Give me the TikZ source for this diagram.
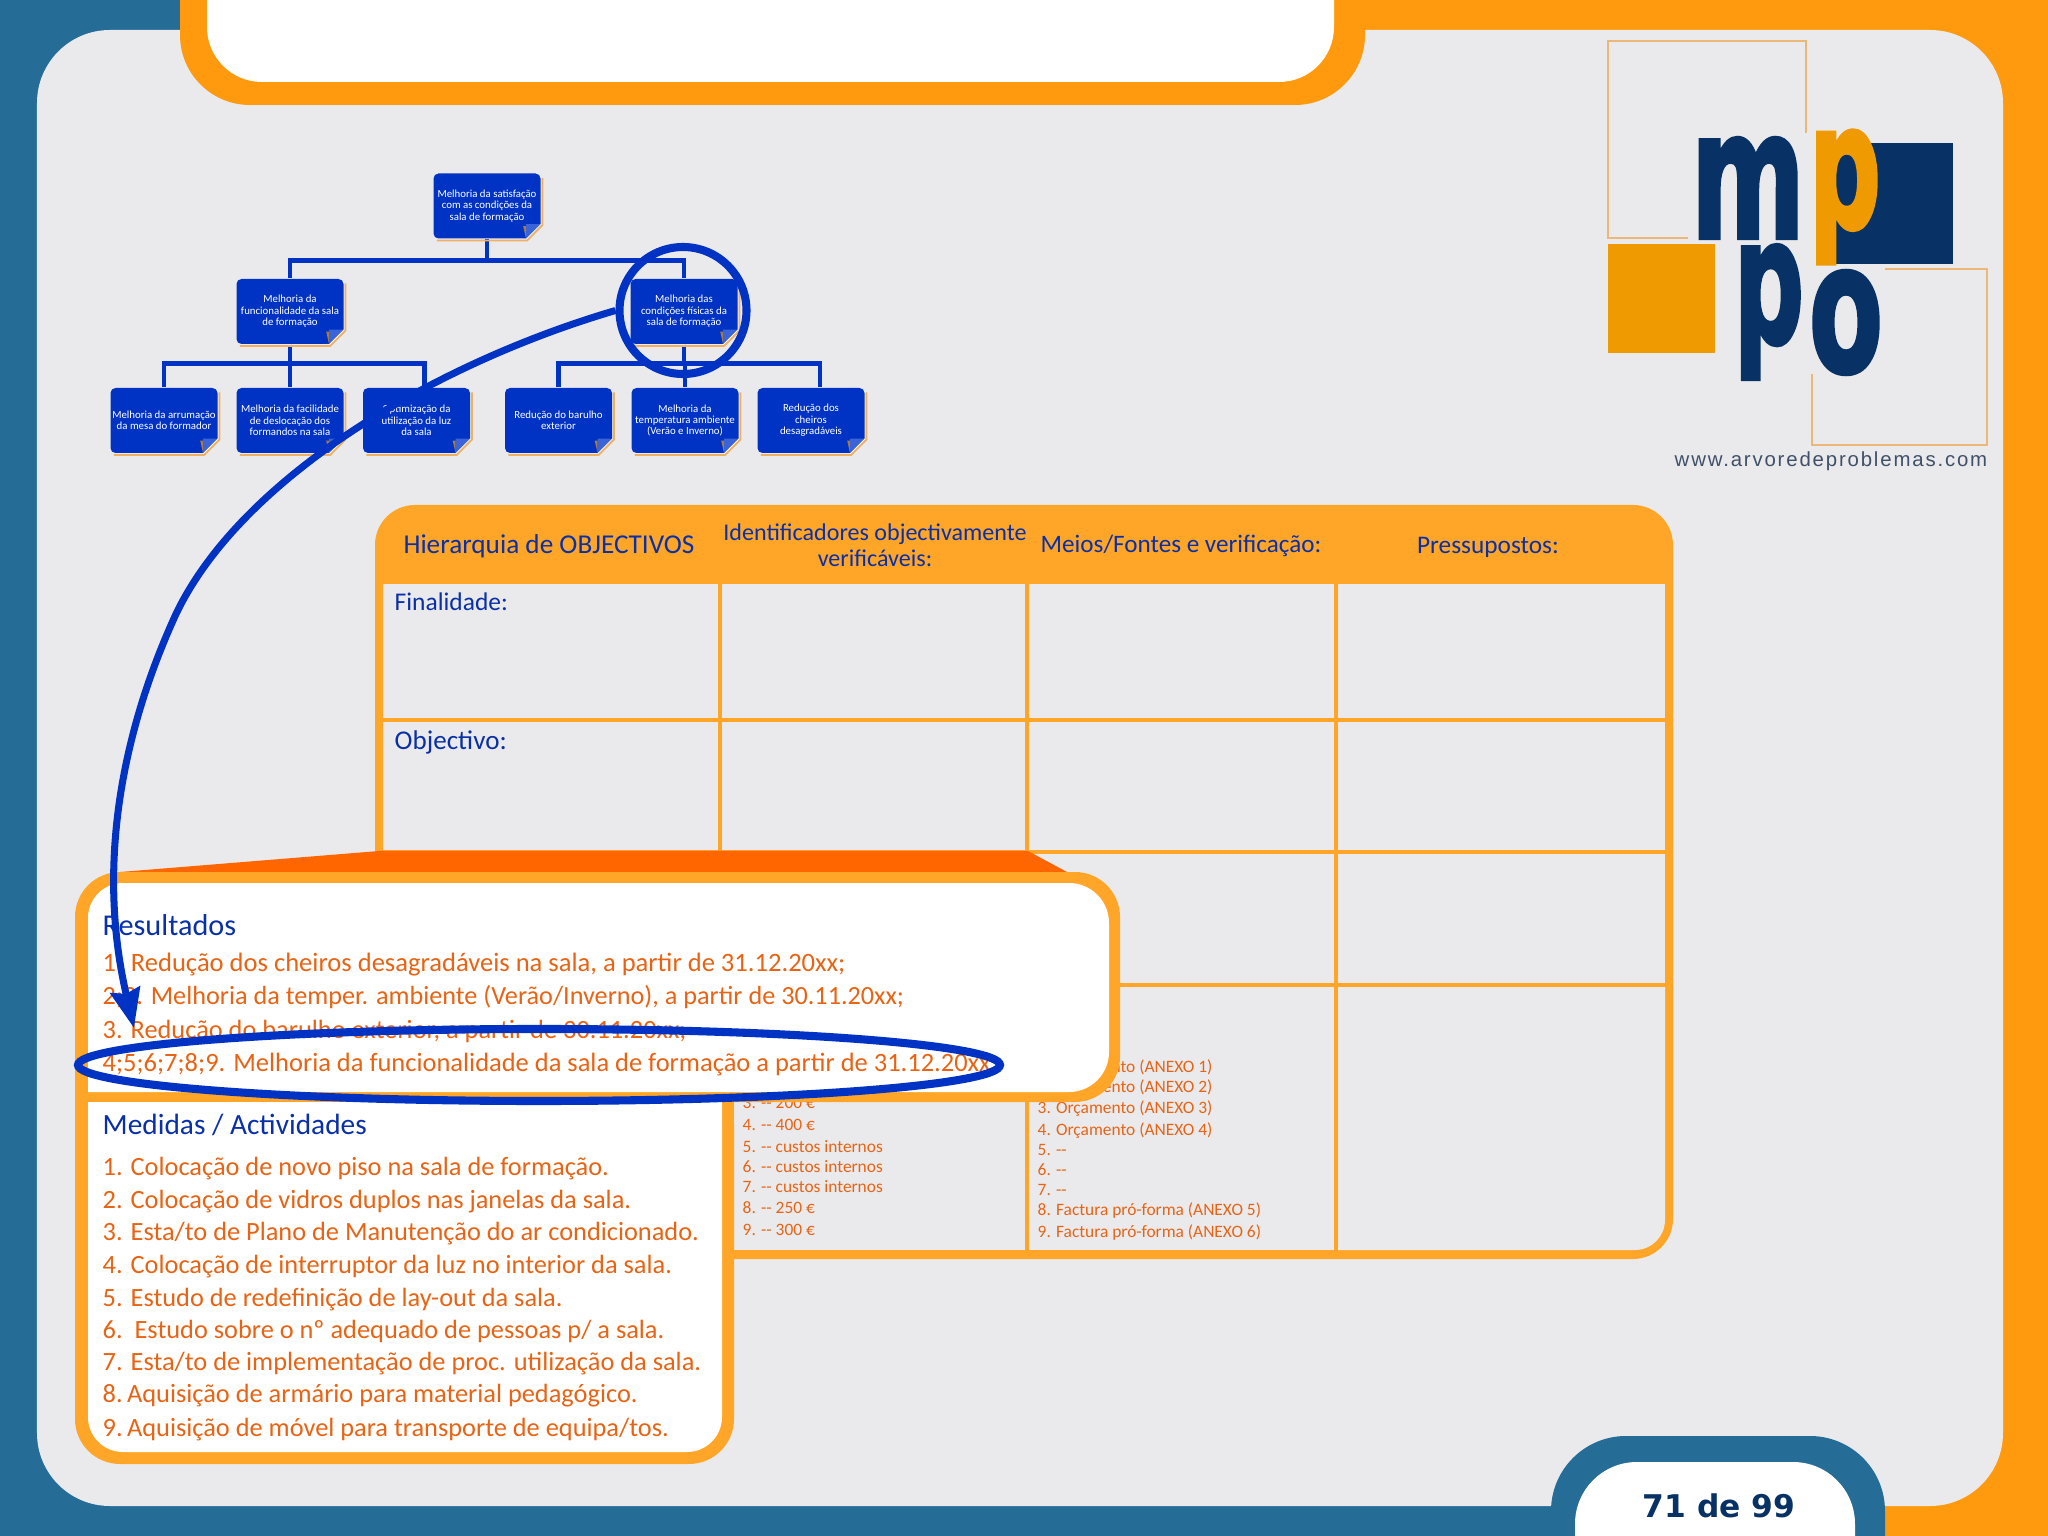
\documentclass[tikz,border=0pt]{standalone}
\usepackage{fontspec}
\setmainfont{Carlito}
\newfontfamily\pagefont{DejaVu Sans}
\newfontfamily\logofont[BoldFeatures={FakeBold=2.5}]{DejaVu Sans}
\newfontfamily\urlfont[LetterSpace=9]{Liberation Sans}
\usetikzlibrary{arrows.meta,shapes.geometric}
\definecolor{slideblue}{RGB}{37,109,151}
\definecolor{slideorange}{RGB}{255,154,14}
\definecolor{panelgray}{RGB}{234,234,236}
\definecolor{tableorange}{RGB}{255,166,40}
\definecolor{deeporange}{RGB}{255,102,0}
\definecolor{textorange}{RGB}{232,100,20}
\definecolor{textblue}{RGB}{10,48,168}
\definecolor{objblue}{RGB}{0,51,196}
\definecolor{foldblue}{RGB}{58,100,216}
\definecolor{foldedge}{RGB}{240,176,96}
\definecolor{logonavy}{RGB}{8,50,102}
\definecolor{logoorange}{RGB}{238,154,0}
\definecolor{logoline}{RGB}{236,184,120}
\definecolor{urlgray}{RGB}{64,80,104}

\begin{document}
\begin{tikzpicture}[
    x=1cm, y=-1cm,
    objbox/.style={
        rectangle, rounded corners=0.05cm, fill=objblue, text=white,
        minimum width=1.07cm, minimum height=0.65cm, inner sep=0pt,
        align=center, font=\fontsize{3.08}{3.25}\selectfont
    },
    link/.style={draw=objblue, line width=1.4pt},
    ringmark/.style={ellipse, draw=objblue, line width=2.3pt, inner sep=0pt},
    sweep/.style={
        -{Stealth[length=3.9mm, width=3mm, inset=0.4mm]},
        line width=2pt,
        draw=objblue
    },
    headtext/.style={text=textblue, align=center},
    titletext/.style={anchor=base west, inner sep=0pt, text=textblue},
    mainline/.style={anchor=base west, inner sep=0pt, text=textorange, font=\fontsize{7.5}{9}\selectfont},
    smallline/.style={anchor=base west, inner sep=0pt, text=textorange, font=\fontsize{4.95}{6}\selectfont},
    logoframe/.style={draw=logoline, line width=0.7pt}
]
\useasboundingbox (0,0) rectangle (20.48,15.36);

% =================== Slide background ===================
\fill[slideblue] (0,0) rectangle (20.48,15.36);
\fill[slideorange] (1.80,0) rectangle (20.48,0.60);
\fill[slideorange] (19.00,0) rectangle (20.48,15.36);
\fill[slideorange] (18.00,14.50) rectangle (20.48,15.36);
\fill[panelgray, rounded corners=0.73cm] (0.37,0.30) rectangle (20.03,15.06);
\fill[slideorange, rounded corners=0.70cm] (1.80,-1.00) rectangle (13.65,1.05);
\fill[white, rounded corners=0.55cm] (2.07,-1.00) rectangle (13.34,0.82);
\fill[slideblue, rounded corners=0.75cm] (15.51,14.36) rectangle (18.85,16.50);
\fill[white, rounded corners=0.62cm] (15.75,14.62) rectangle (18.55,16.50);
\node[text=logonavy, inner sep=0pt, font=\pagefont\bfseries\fontsize{8.9}{12}\selectfont]
    (pageno) at (17.19,15.06) {71 de 99};

% =================== Logo ===================
\draw[logoframe] (16.88,2.38) -- (16.08,2.38) -- (16.08,0.41) -- (18.06,0.41) -- (18.06,1.33);
\draw[logoframe] (18.85,2.69) -- (19.87,2.69) -- (19.87,4.45) -- (18.12,4.45) -- (18.12,3.74);
\fill[logoorange] (16.08,2.44) rectangle (17.15,3.53);
\fill[logonavy] (18.33,1.43) rectangle (19.53,2.64);
\node[inner sep=0pt, text=logonavy] (logom) at (17.48,1.88) {\resizebox{1.14cm}{1.00cm}{\logofont\bfseries m}};
\node[inner sep=0pt, text=logoorange] (logop) at (18.45,1.97) {\resizebox*{0.72cm}{1.33cm}{\logofont\bfseries p}};
\node[inner sep=0pt, text=logonavy] (logoq) at (17.69,3.12) {\resizebox*{0.70cm}{1.34cm}{\logofont\bfseries p}};
\node[inner sep=0pt, text=logonavy] (logoo) at (18.46,3.225) {\resizebox*{0.74cm}{1.03cm}{\logofont\bfseries o}};
\node[inner sep=0pt, text=urlgray, font=\urlfont\fontsize{5.8}{6}\selectfont]
    (logourl) at (18.31,4.61) {www.arvoredeproblemas.com};

% =================== Objectives tree ===================
\node[objbox] (objtop) at (4.87,2.06) {Melhoria da satisfação\\com as condições da\\sala de formação};
\node[objbox] (objleft) at (2.90,3.115) {Melhoria da\\funcionalidade da sala\\de formação};
\node[objbox] (objright) at (6.84,3.115) {Melhoria das\\condições físicas da\\sala de formação};
\node[objbox] (leafa) at (1.64,4.205) {Melhoria da arrumação\\da mesa do formador};
\node[objbox] (leafb) at (2.90,4.205) {Melhoria da facilidade\\de deslocação dos\\formandos na sala};
\node[objbox] (leafc) at (4.165,4.205) {Optimização da\\utilização da luz\\da sala};
\node[objbox] (leafd) at (5.585,4.205) {Redução do barulho\\exterior};
\node[objbox] (leafe) at (6.85,4.205) {Melhoria da\\temperatura ambiente\\(Verão e Inverno)};
\node[objbox] (leaff) at (8.11,4.205) {Redução dos\\cheiros\\desagradáveis};

\draw[link] (objtop.south) -- ++(0,0.21) -| (objleft.north);
\draw[link] (objtop.south) -- ++(0,0.21) -| (objright.north);
\foreach \n/\dx in {leafa/0,leafb/0,leafc/0.08} \draw[link] (objleft.south) -- ++(0,0.19) -| ([xshift=\dx cm]\n.north);
\foreach \n/\dx in {leafd/0,leafe/0,leaff/0.09} \draw[link] (objright.south) -- ++(0,0.19) -| ([xshift=\dx cm]\n.north);

% folded corners
\foreach \n in {objtop,objleft,objright,leafa,leafb,leafc,leafd,leafe,leaff} {
    \fill[panelgray] ([xshift=-0.15cm]\n.south east) -- ([xshift=0.01cm,yshift=-0.02cm]\n.south east)
        -- ([xshift=0.01cm,yshift=0.15cm]\n.south east) -- cycle;
    \fill[foldedge!70!black] ([xshift=-0.15cm]\n.south east) -- ([xshift=-0.15cm,yshift=0.13cm]\n.south east)
        -- ([xshift=-0.18cm,yshift=0.13cm]\n.south east) -- cycle;
    \fill[foldblue] ([xshift=-0.15cm]\n.south east) -- ([xshift=-0.15cm,yshift=0.15cm]\n.south east)
        -- ([yshift=0.15cm]\n.south east) -- cycle;
    \draw[white, line width=0.25pt] ([xshift=-0.15cm]\n.south east) -- ([yshift=0.15cm]\n.south east);
    \draw[foldedge, line width=0.5pt] ([xshift=0.04cm,yshift=-0.012cm]\n.south west)
        -- ([xshift=-0.14cm,yshift=-0.012cm]\n.south east)
        -- ([xshift=0.012cm,yshift=0.14cm]\n.south east)
        -- ([xshift=0.012cm,yshift=-0.05cm]\n.north east);
}

% =================== Logical framework table ===================
\fill[tableorange, rounded corners=0.40cm] (3.75,5.05) rectangle (16.73,12.59);
\foreach \xa/\xb in {3.83/7.18,7.22/10.25,10.29/13.34,13.38/16.65}
    \foreach \ya/\yb in {5.84/7.18,7.22/8.50,8.54/9.83}
        \fill[panelgray] (\xa,\ya) rectangle (\xb,\yb);
\foreach \xa/\xb in {3.83/7.18,7.22/10.25,10.29/13.34}
    \fill[panelgray] (\xa,9.87) rectangle (\xb,12.50);
\fill[panelgray] (13.38,9.87) -- (16.65,9.87) [rounded corners=0.30cm] -- (16.65,12.50) [sharp corners] -- (13.38,12.50) -- cycle;

\node[headtext, font=\fontsize{7.75}{9}\selectfont] (headobj) at (5.49,5.46) {Hierarquia de OBJECTIVOS};
\node[headtext, font=\fontsize{6.85}{7.4}\selectfont] (headind) at (8.75,5.45) {Identificadores objectivamente\\verificáveis:};
\node[headtext, font=\fontsize{7.15}{9}\selectfont] (headsrc) at (11.81,5.46) {Meios/Fontes e verificação:};
\node[headtext, font=\fontsize{7.2}{9}\selectfont] (headhyp) at (14.88,5.47) {Pressupostos:};
\node[titletext, font=\fontsize{7.25}{9}\selectfont] (rowgoal) at (3.94,6.11) {Finalidade:};
\node[titletext, font=\fontsize{7.7}{9}\selectfont] (rowaim) at (3.94,7.50) {Objectivo:};

\foreach \y/\txt [count=\i] in {11.08/3. -{}- 200 €/ano, 11.30/4. -{}- 400 €, 11.52/5. -{}- custos internos,
        11.72/6. -{}- custos internos, 11.92/7. -{}- custos internos, 12.13/8. -{}- 250 €, 12.35/9. -{}- 300 €}
    \node[smallline] (cost\i) at (7.42,\y) {\txt};
\foreach \y/\txt [count=\i] in {10.72/1. Orçamento (ANEXO 1), 10.93/2. Orçamento (ANEXO 2), 11.14/3. Orçamento (ANEXO 3),
        11.35/4. Orçamento (ANEXO 4), 11.55/5. -{}-, 11.75/6. -{}-, 11.95/7. -{}-,
        12.15/8. Factura pró-forma (ANEXO 5), 12.37/9. Factura pró-forma (ANEXO 6)}
    \node[smallline] (proof\i) at (10.37,\y) {\txt};

% =================== Zoomed panels ===================
\fill[deeporange] (3.79,8.51) -- (10.28,8.51) -- (10.67,8.72) -- (1.20,8.72) -- cycle;
\fill[tableorange, rounded corners=0.45cm] (0.75,8.72) rectangle (11.20,11.02);
\fill[tableorange] (0.75,10.60) rectangle (7.34,11.30);
\fill[tableorange, rounded corners=0.45cm] (0.75,10.80) rectangle (7.34,14.64);
\fill[white] (0.88,8.83) [rounded corners=0.40cm] -- (11.09,8.83) -- (11.09,10.92) [sharp corners] -- (0.88,10.92) [rounded corners=0.35cm] -- cycle;
\fill[white] (0.88,11.02) -- (7.22,11.02) [rounded corners=0.35cm] -- (7.22,14.52) -- (0.88,14.52) [sharp corners] -- cycle;

\node[titletext, font=\fontsize{8.6}{9}\selectfont] (restitle) at (1.02,9.35) {Resultados};
\node[mainline, font=\fontsize{7.56}{9}\selectfont] (res1) at (1.02,9.71) {1. Redução dos cheiros desagradáveis na sala, a partir de 31.12.20xx;};
\node[mainline, font=\fontsize{7.46}{9}\selectfont] (res2) at (1.02,10.04) {2;3. Melhoria da temper. ambiente (Verão/Inverno), a partir de 30.11.20xx;};
\node[mainline] (res3) at (1.02,10.38) {3. Redução do barulho exterior, a partir de 30.11.20xx;};
\node[mainline, font=\fontsize{7.53}{9}\selectfont] (res4) at (1.02,10.71) {4;5;6;7;8;9. Melhoria da funcionalidade da sala de formação a partir de 31.12.20xx;};

\node[titletext, font=\fontsize{8.35}{9}\selectfont] (acttitle) at (1.02,11.34) {Medidas / Actividades};
\node[mainline] (act1) at (1.02,11.75) {1. Colocação de novo piso na sala de formação.};
\node[mainline] (act2) at (1.02,12.08) {2. Colocação de vidros duplos nas janelas da sala.};
\node[mainline] (act3) at (1.02,12.40) {3. Esta/to de Plano de Manutenção do ar condicionado.};
\node[mainline] (act4) at (1.02,12.73) {4. Colocação de interruptor da luz no interior da sala.};
\node[mainline] (act5) at (1.02,13.06) {5. Estudo de redefinição de lay-out da sala.};
\node[mainline] (act6) at (1.02,13.38) {6.\ \ Estudo sobre o nº adequado de pessoas p/ a sala.};
\node[mainline] (act7) at (1.02,13.70) {7. Esta/to de implementação de proc. utilização da sala.};
\node[mainline] (act8) at (1.02,14.02) {8.\,Aquisição de armário para material pedagógico.};
\node[mainline] (act9) at (1.02,14.36) {9.\,Aquisição de móvel para transporte de equipa/tos.};

% =================== Marks on top ===================
\node[ringmark, minimum width=1.27cm, minimum height=1.27cm] (ringtop) at (6.83,3.105) {};
\node[ringmark, minimum width=9.22cm, minimum height=0.72cm] (ringres) at (5.39,10.65) {};
\coordinate (sweepend) at (1.34,10.28);
\draw[sweep] (ringtop.west) .. controls (4.30,3.65) and (2.40,4.80) .. (1.76,6.14)
    .. controls (1.25,7.25) and (0.95,8.60) .. (sweepend);

\end{tikzpicture}
\end{document}
